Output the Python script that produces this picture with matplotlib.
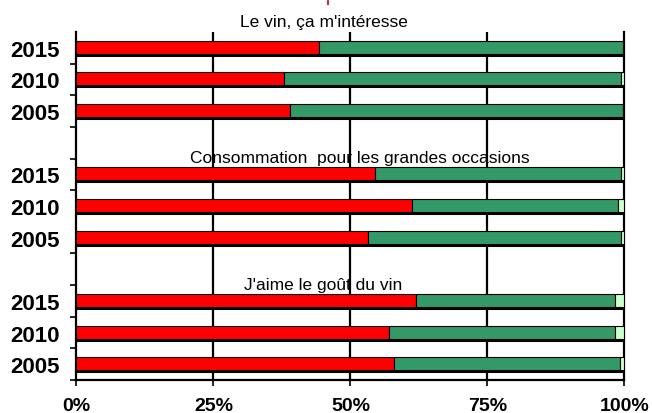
import matplotlib
matplotlib.use("Agg")
import matplotlib.pyplot as plt
from matplotlib.lines import Line2D

# data (percent)
titles = ["Le vin, ça m'intéresse", "Consommation  pour les grandes occasions", "J'aime le goût du vin"]
years = ["2015", "2010", "2005"]
red_vals = [[44.2, 37.8, 39.0], [54.5, 61.2, 53.2], [61.9, 57.1, 57.9]]
green_vals = [[55.6, 61.6, 60.7], [44.9, 37.7, 46.2], [36.3, 41.1, 41.2]]
light_vals = [[0.2, 0.6, 0.3], [0.6, 1.1, 0.6], [1.8, 1.8, 0.9]]
title_x = [45.2, 51.7, 45.0]
title_y = [-0.69, 3.61, 7.62]   # baselines, in category units
xticks = [0, 25, 50, 75, 100]

RED = "#ff0000"
GREEN = "#339966"
LIGHT = "#ccffcc"

plt.rcParams['font.family'] = ['Liberation Sans', 'DejaVu Sans']

fig = plt.figure(figsize=(6.52, 4.14), dpi=100)
ax = fig.add_axes([0.1173, 0.0797, 0.8405, 0.8406])

h = 0.44
ypos = []
ylabels = []
for g in range(3):
    for i in range(3):
        y = g * 4 + i
        ypos.append(y)
        ylabels.append(years[i])
        r = red_vals[g][i]
        gr = green_vals[g][i]
        li = light_vals[g][i]
        ax.barh(y, r, height=h, left=0, color=RED, edgecolor="black", linewidth=0.8, zorder=3)
        ax.barh(y, gr, height=h, left=r, color=GREEN, edgecolor="black", linewidth=0.8, zorder=3)
        ax.barh(y, li, height=h, left=r + gr, color=LIGHT, edgecolor="black", linewidth=0.8, zorder=3)
        # thicker bottom edge like the original
        ax.hlines(y + h / 2, 0, r + gr + li, color="black", linewidth=2.2, zorder=4)
    ax.text(title_x[g], title_y[g], titles[g], ha="center", va="baseline", fontsize=12.5, zorder=5)

ax.set_xlim(0, 100)
ax.set_ylim(10.5, -0.5)

for x in xticks[1:-1]:
    ax.axvline(x, color="black", linewidth=1.6, zorder=1)

ax.spines['top'].set_visible(False)
for s in ['left', 'right', 'bottom']:
    ax.spines[s].set_linewidth(1.6)
    ax.spines[s].set_color("black")

ax.set_xticks(xticks)
ax.set_xticklabels([str(x) + "%" for x in xticks], fontsize=14, fontweight="bold")
ax.tick_params(axis="x", length=4, width=1.2, pad=8)

ax.set_yticks(ypos)
ax.set_yticklabels(ylabels, fontsize=16, fontweight="bold")
ax.tick_params(axis="y", which="major", length=0, pad=12)
ax.set_yticks([0.5, 1.5, 2.5, 3.5, 4.5, 6.5, 7.5, 8.5, 9.5, 10.5], minor=True)
ax.tick_params(axis="y", which="minor", length=4.5, width=1.2)

# clipped remnant of the page title at the very top
fig.add_artist(Line2D([327.7 / 652, 327.7 / 652], [1.0, 1 - 5 / 414], color="#a0406a", linewidth=1.6))

fig.savefig("out.png", dpi=100)
